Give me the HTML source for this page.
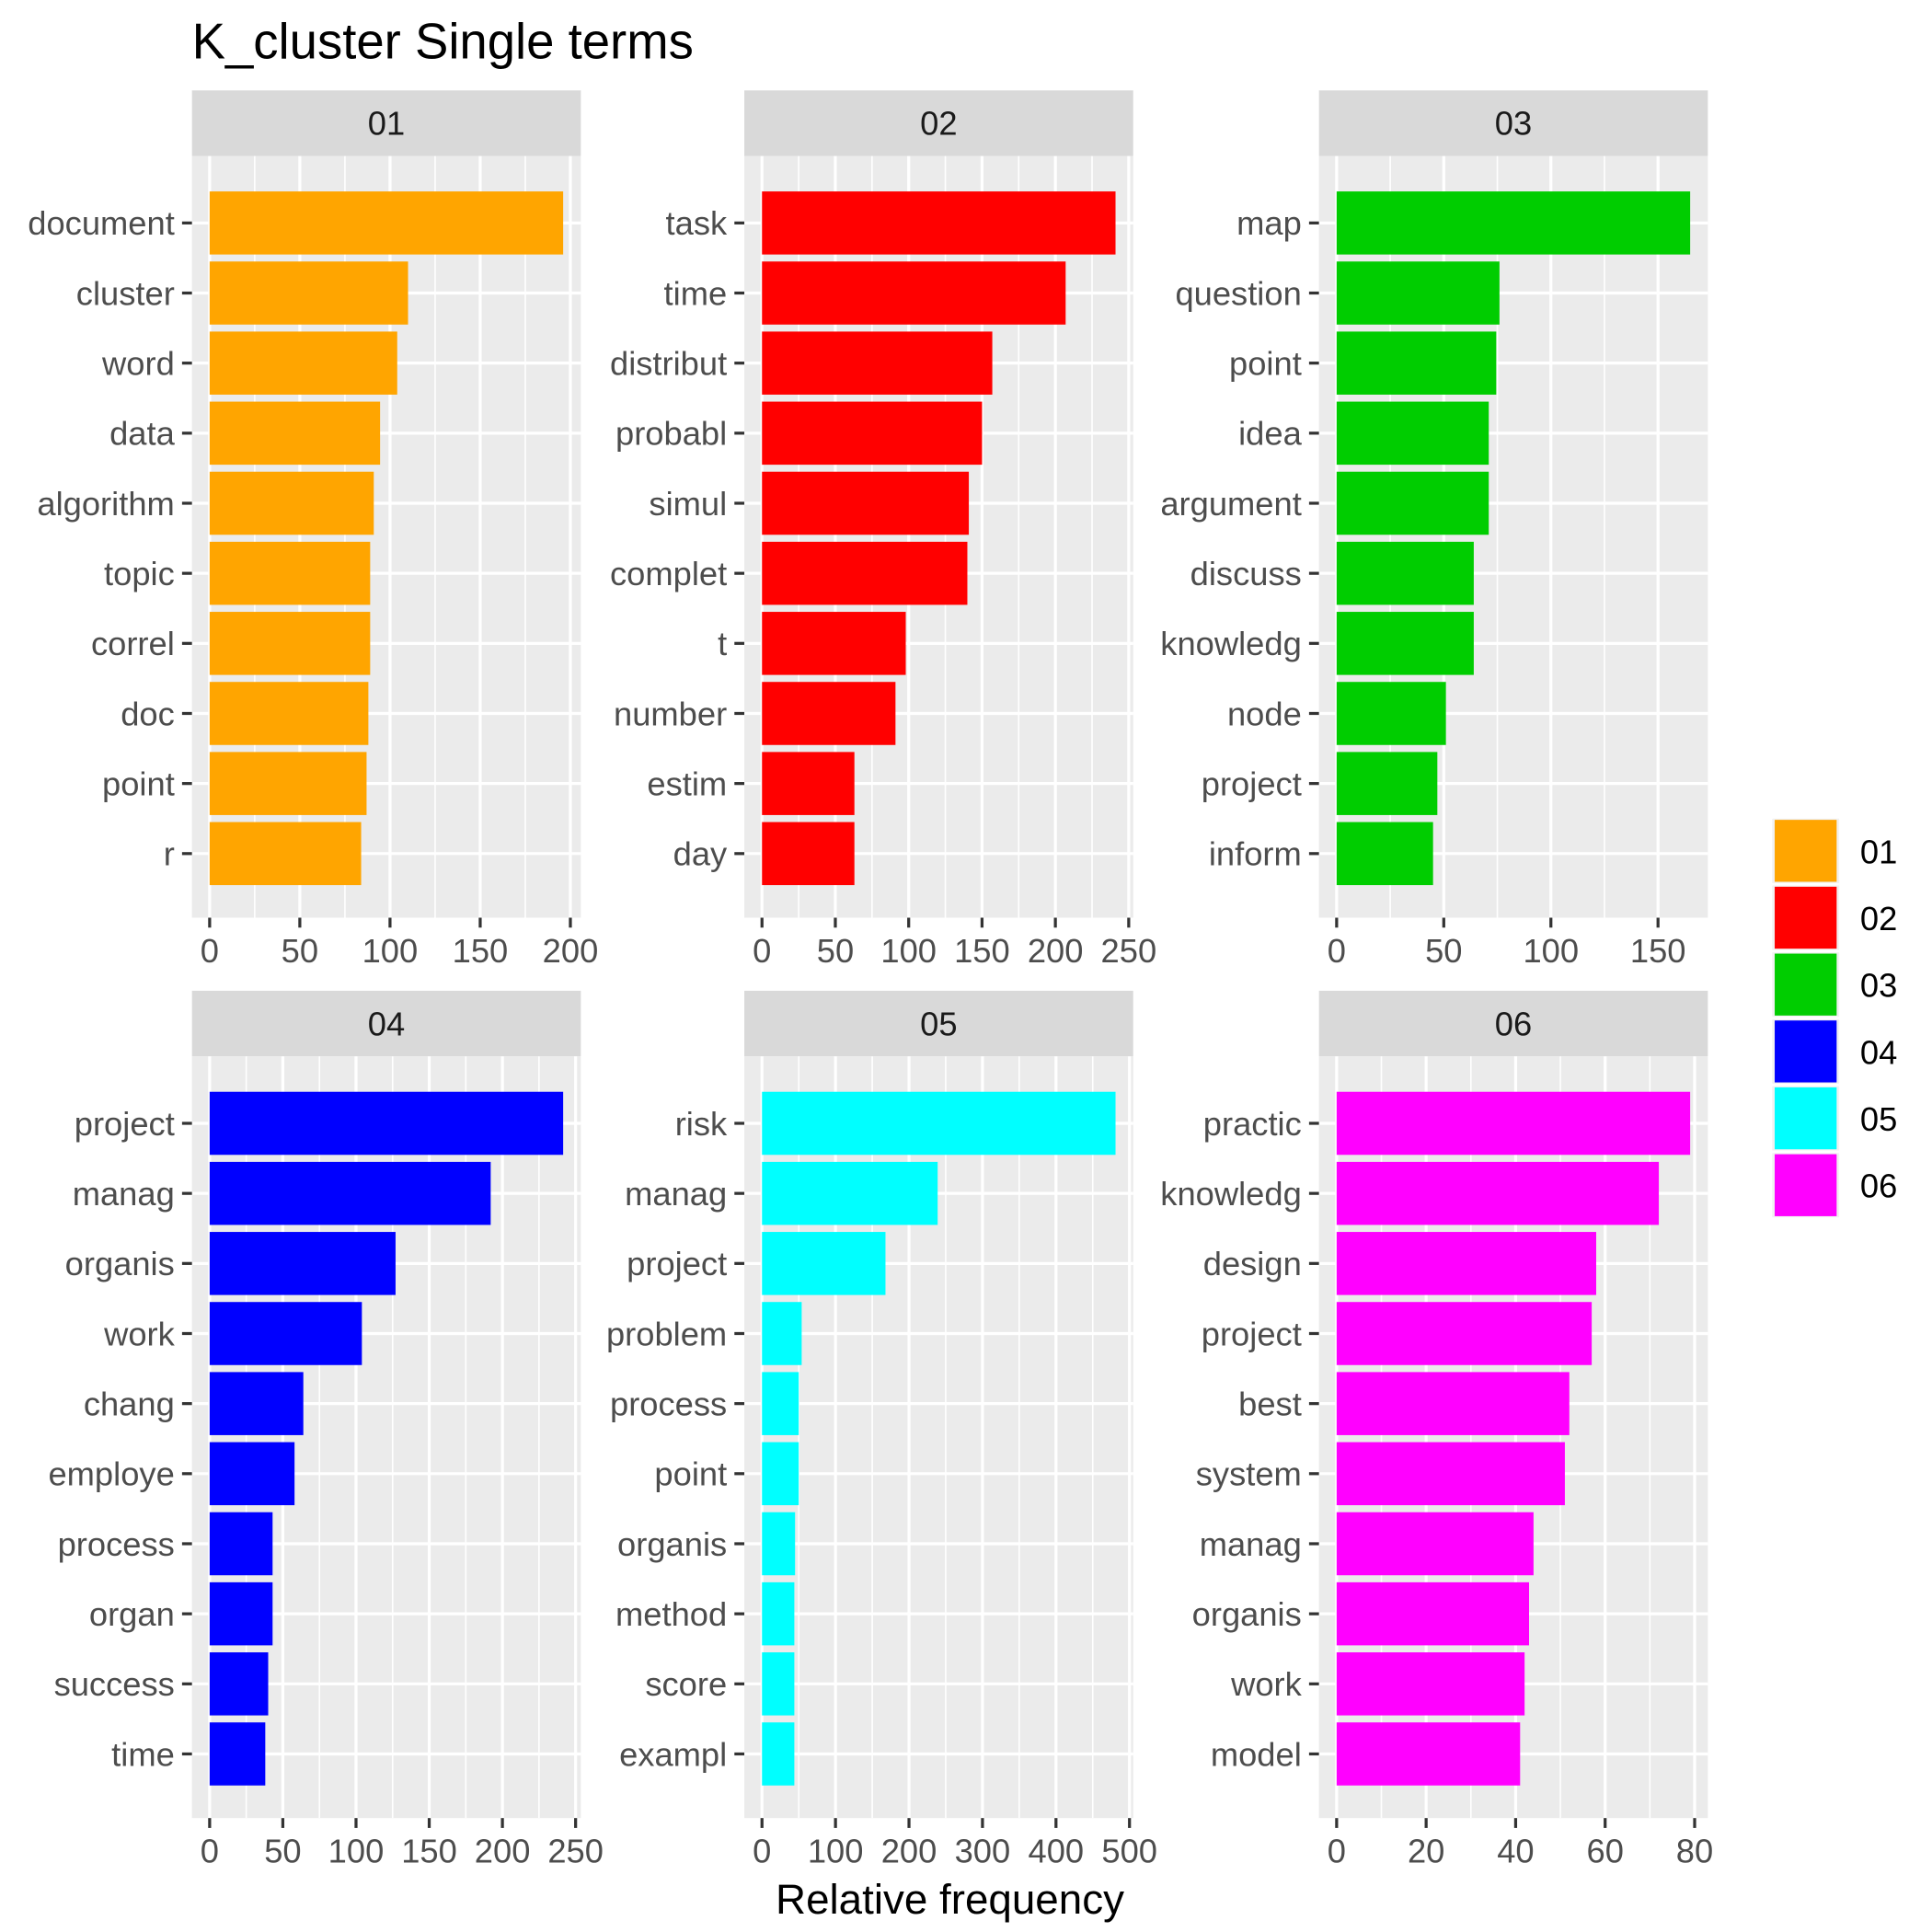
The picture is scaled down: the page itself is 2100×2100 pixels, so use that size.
<!DOCTYPE html>
<html><head><meta charset="utf-8"><style>html,body{margin:0;padding:0;background:#fff}svg{display:block}text{font-family:"Liberation Sans",Arial,sans-serif}</style></head>
<body>
<svg id="chart" width="2100" height="2100" viewBox="0 0 1560 1560" xmlns="http://www.w3.org/2000/svg">
<rect width="1560" height="1560" fill="#fff"/>
<text x="155" y="47" font-size="40.5" fill="#000">K_cluster Single terms</text>
<text x="767" y="1545" font-size="34" fill="#000" text-anchor="middle">Relative frequency</text>
<g id="panels"></g>
<g id="legend"></g>
</svg>
<script>
const panelNames = ["01","02","03","04","05","06"];
const colors = ["#FFA500","#FF0000","#00CD00","#0000FF","#00FFFF","#FF00FF"];
const terms01 = ["document","cluster","word","data","algorithm","topic","correl","doc","point","r"];
const values01 = [196,110,104,94.5,91,89,89,88,87,84];
const terms02 = ["task","time","distribut","probabl","simul","complet","t","number","estim","day"];
const values02 = [241,207,157,150,141,140,98,91,63,63];
const terms03 = ["map","question","point","idea","argument","discuss","knowledg","node","project","inform"];
const values03 = [165,76,74.5,71,71,64,64,51,47,45];
const terms04 = ["project","manag","organis","work","chang","employe","process","organ","success","time"];
const values04 = [241.5,192,127,104,64,58,43,43,40,38];
const terms05 = ["risk","manag","project","problem","process","point","organis","method","score","exampl"];
const values05 = [481,239,168,54,50,50,45,44,44,44];
const terms06 = ["practic","knowledg","design","project","best","system","manag","organis","work","model"];
const values06 = [79,72,58,57,52,51,44,43,42,41];
const ticks01 = [0,50,100,150,200];
const ticks02 = [0,50,100,150,200,250];
const ticks03 = [0,50,100,150];
const ticks04 = [0,50,100,150,200,250];
const ticks05 = [0,100,200,300,400,500];
const ticks06 = [0,20,40,60,80];

const allTerms=[terms01,terms02,terms03,terms04,terms05,terms06];
const allVals=[values01,values02,values03,values04,values05,values06];
const allTicks=[ticks01,ticks02,ticks03,ticks04,ticks05,ticks06];
const NS="http://www.w3.org/2000/svg";
const colX=[155,601,1065], W=314;
const rowY=[73,800], stripH=53, plotH=615;
function mk(tag,attrs,parent){const e=document.createElementNS(NS,tag);for(const k in attrs)e.setAttribute(k,attrs[k]);parent.appendChild(e);return e;}
const root=document.getElementById('panels');
for(let p=0;p<6;p++){
  const px=colX[p%3], py=rowY[Math.floor(p/3)];
  const top=py+stripH, bot=top+plotH;
  const vals=allVals[p], terms=allTerms[p], ticks=allTicks[p];
  const maxV=Math.max(...vals);
  const lo=-0.05*maxV, hi=1.05*maxV;
  const x=v=>px+(v-lo)/(hi-lo)*W;
  const n=terms.length, step=plotH/(n+0.87);
  const y=i=>top+step*(i+0.955);
  const g=mk('g',{},root);
  
  
  const strip=mk('rect',{x:px,y:py,width:W,height:stripH,fill:'#D9D9D9'},g);
  
  
  const st=mk('text',{x:px+W/2,y:py+stripH/2+9.5,'font-size':27,fill:'#1A1A1A','text-anchor':'middle'},g);
  st.textContent=panelNames[p];
  
  
  const bg=mk('rect',{x:px,y:top,width:W,height:plotH,fill:'#EBEBEB'},g);
  
  
  const tstep=ticks[1]-ticks[0];
  for(let t=ticks[0]-tstep/2;t<=hi;t+=tstep/2){
    if(t<lo)continue;
    const major=Math.abs((t/tstep)-Math.round(t/tstep))<1e-6;
    mk('line',{x1:x(t),x2:x(t),y1:top,y2:bot,stroke:'#fff','stroke-width':major?2.4:1.2},g);
  }
  for(let i=0;i<n;i++){mk('line',{x1:px,x2:px+W,y1:y(i),y2:y(i),stroke:'#fff','stroke-width':2.4},g);}
  for(let i=0;i<n;i++){
    const b=mk('rect',{x:x(0),y:y(i)-step*0.45,width:x(vals[i])-x(0),height:step*0.9,fill:colors[p]},g);
    
    
    mk('line',{x1:px-8,x2:px,y1:y(i),y2:y(i),stroke:'#333','stroke-width':2.4},g);
    const tl=mk('text',{x:px-14,y:y(i)+9.5,'font-size':27,fill:'#4D4D4D','text-anchor':'end'},g);
    tl.textContent=terms[i];
    
    
  }
  for(const t of ticks){
    mk('line',{x1:x(t),x2:x(t),y1:bot,y2:bot+8,stroke:'#333','stroke-width':2.4},g);
    const xl=mk('text',{x:x(t),y:bot+36,'font-size':27,fill:'#4D4D4D','text-anchor':'middle'},g);
    xl.textContent=t;
    
    
  }
}
const lg=document.getElementById('legend');
for(let i=0;i<6;i++){
  const ky=662+i*54;
  mk('rect',{x:1431,y:ky-1,width:54,height:52,fill:'#F2F2F2'},lg);
  const k=mk('rect',{x:1433,y:ky,width:50,height:50,fill:colors[i]},lg);
  
  
  const lt=mk('text',{x:1502,y:ky+35,'font-size':27,fill:'#000'},lg);
  lt.textContent=panelNames[i];
  
  
}
</script>
</body></html>
